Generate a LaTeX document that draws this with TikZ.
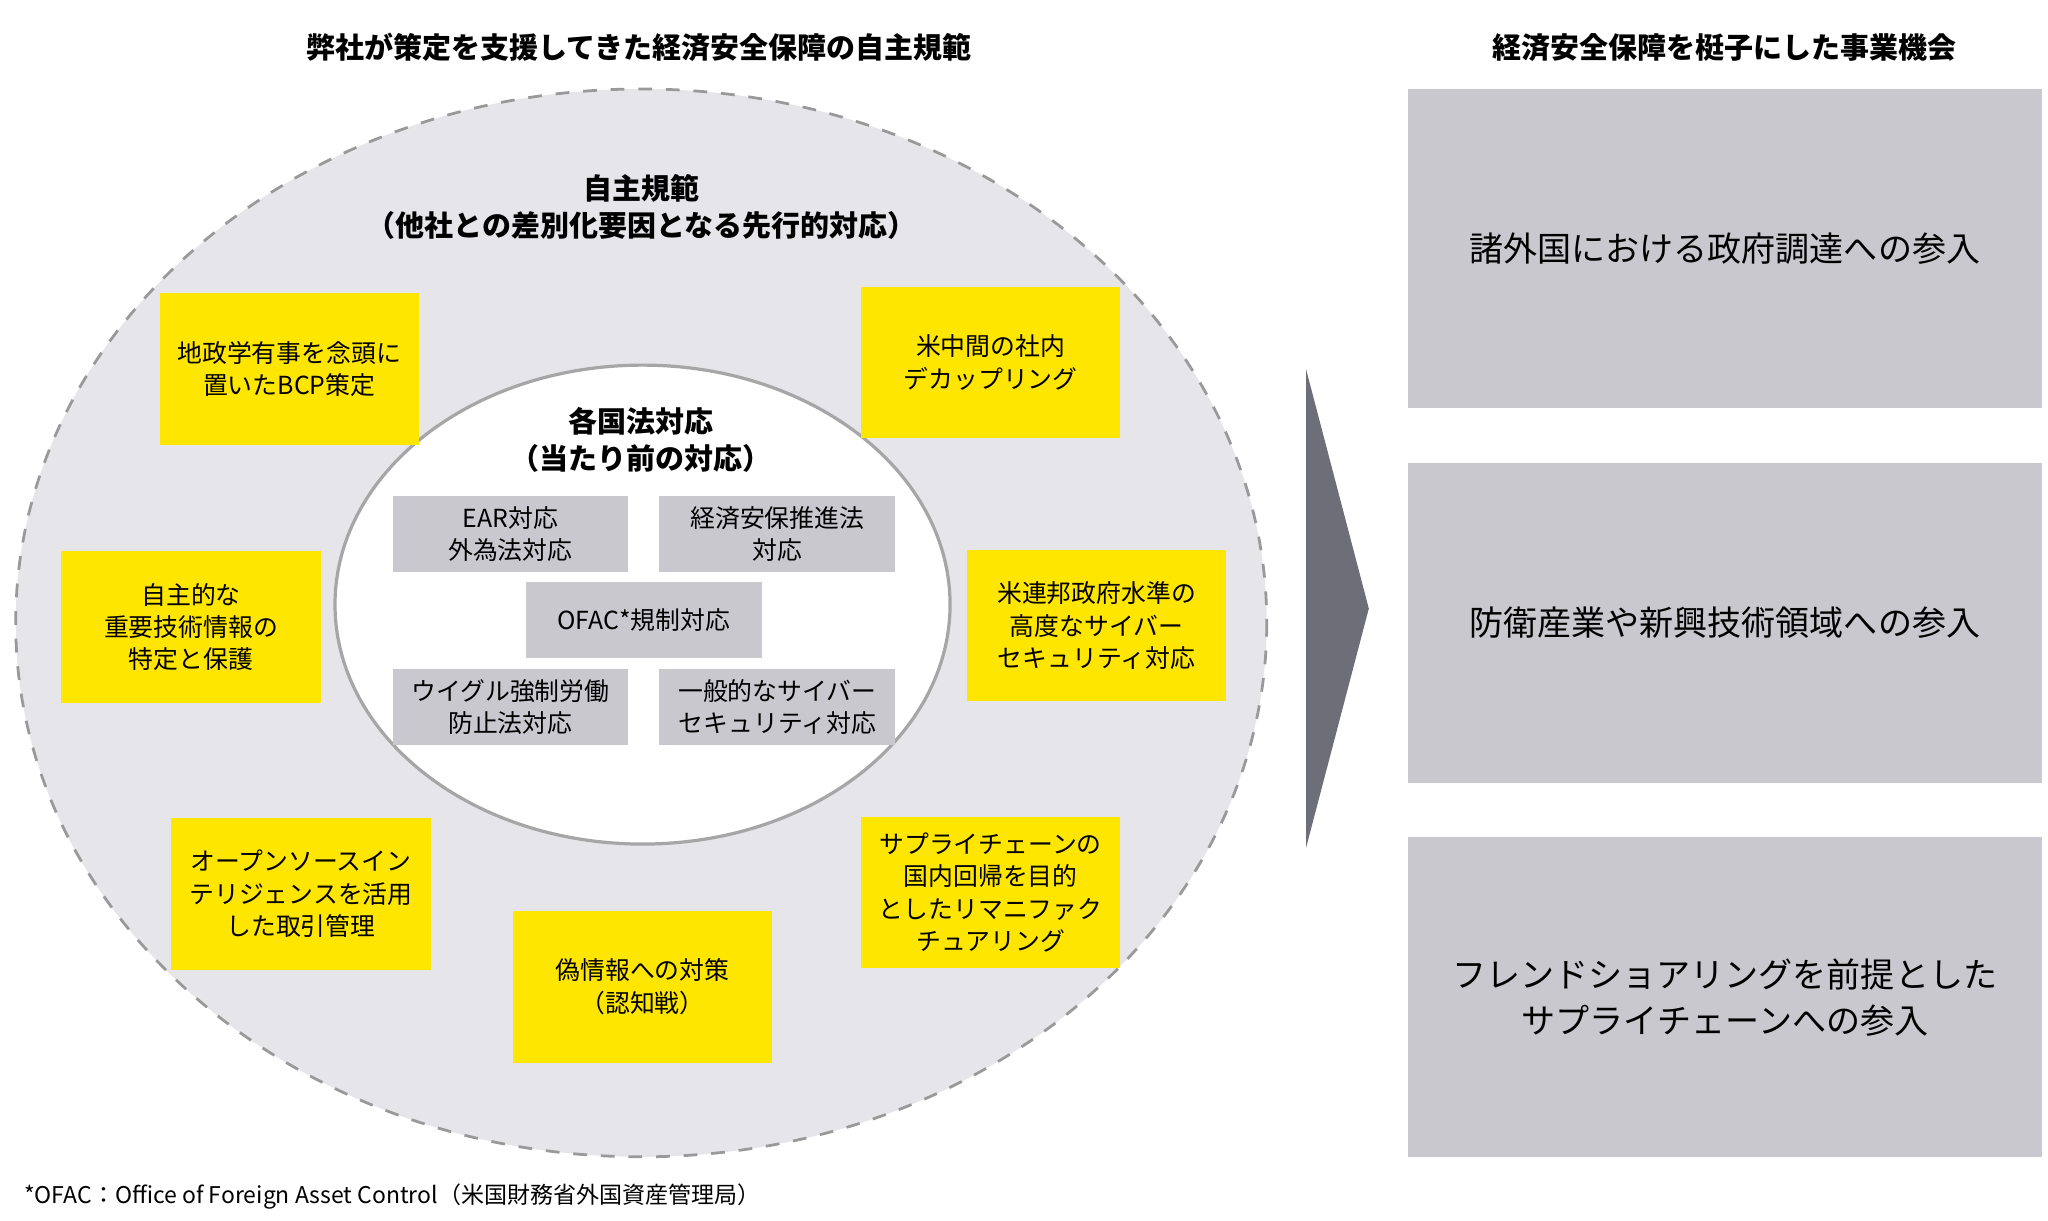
\documentclass[tikz,border=0pt]{standalone}
\usepackage{fontspec}
\setmainfont{Noto Sans CJK JP}
\begin{document}
\begin{tikzpicture}[x=0.01cm,y=-0.01cm,
 yb/.style={fill=ybox,draw=none,align=center,minimum width=1.98cm,minimum height=1.16cm,inner sep=0pt,font=\fontsize{5.4}{7}\selectfont},
 gb/.style={fill=gbox,draw=none,align=center,minimum width=1.8cm,minimum height=0.58cm,inner sep=0pt,font=\fontsize{5.4}{7}\selectfont},
 rb/.style={fill=gbox,draw=none,align=center,minimum width=4.84cm,minimum height=2.44cm,inner sep=0pt,font=\fontsize{7.4}{10}\selectfont},
 hd/.style={align=center,font=\bfseries\fontsize{6.3}{8}\selectfont}]
\definecolor{ybox}{HTML}{FFE600}
\definecolor{gbox}{HTML}{C8C8CE}
\definecolor{outer}{HTML}{E6E6EA}
\definecolor{arr}{HTML}{6E6E78}
\useasboundingbox (0,0) rectangle (1565,933);
\fill[white] (0,0) rectangle (1565,933);
\node[hd] (t1) at (488,36) {弊社が策定を支援してきた経済安全保障の自主規範};
\node[hd] (t2) at (1318,36) {経済安全保障を梃子にした事業機会};
\draw[draw=gray!80,dashed,line width=0.6pt,fill=outer] (490,476) ellipse [x radius=478,y radius=408];
\node[hd] (h1) at (490,158) {自主規範\\（他社との差別化要因となる先行的対応）};
\draw[draw=gray!70,line width=0.7pt,fill=white] (491,462) ellipse [x radius=235,y radius=183];
\node[hd] (h2) at (490,336) {各国法対応\\（当たり前の対応）};
\node[gb] (g1) at (390,408) {EAR対応\\外為法対応};
\node[gb] (g2) at (594,408) {経済安保推進法\\対応};
\node[gb] (g3) at (492,474) {OFAC*規制対応};
\node[gb] (g4) at (390,540) {ウイグル強制労働\\防止法対応};
\node[gb] (g5) at (594,540) {一般的なサイバー\\セキュリティ対応};
\node[yb] (y1) at (221,282) {地政学有事を念頭に\\置いたBCP策定};
\node[yb] (y2) at (757,277) {米中間の社内\\デカップリング};
\node[yb] (y3) at (146,479) {自主的な\\重要技術情報の\\特定と保護};
\node[yb] (y4) at (838,478) {米連邦政府水準の\\高度なサイバー\\セキュリティ対応};
\node[yb] (y5) at (230,683) {オープンソースイン\\テリジェンスを活用\\した取引管理};
\node[yb] (y6) at (757,682) {サプライチェーンの\\国内回帰を目的\\としたリマニファク\\チュアリング};
\node[yb] (y7) at (491,754) {偽情報への対策\\（認知戦）};
\fill[arr] (998,282) -- (1046,465) -- (998,648) -- cycle;
\node[rb] (r1) at (1318,190) {諸外国における政府調達への参入};
\node[rb] (r2) at (1318,476) {防衛産業や新興技術領域への参入};
\node[rb] (r3) at (1318,762) {フレンドショアリングを前提とした\\サプライチェーンへの参入};
\node[anchor=west,font=\fontsize{5}{6}\selectfont] (fn) at (6,914) {*OFAC：Office of Foreign Asset Control（米国財務省外国資産管理局）};
\end{tikzpicture}
\end{document}
